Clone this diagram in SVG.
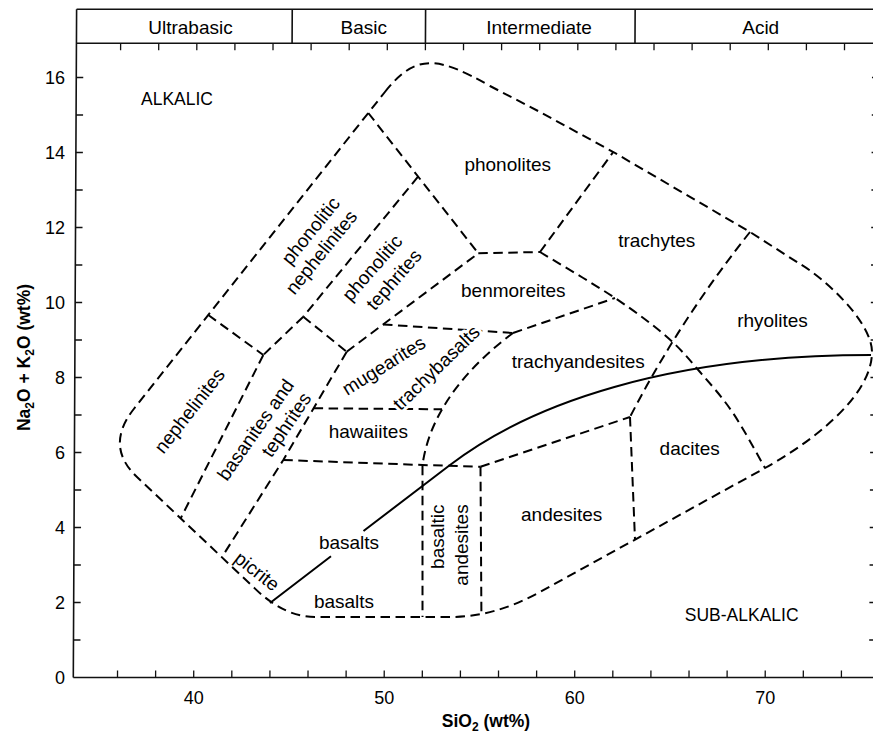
<svg xmlns="http://www.w3.org/2000/svg" width="873" height="736" viewBox="0 0 873 736">
<style>
text{font-family:"Liberation Sans",Arial,sans-serif;fill:#000}
.lbl{font-size:19px;text-anchor:middle}
.cap{font-size:17.5px}
.hdr{font-size:19px;text-anchor:middle}
.num{font-size:18px}
.ttl{font-size:17.5px;font-weight:bold}
.frame{fill:none;stroke:#111;stroke-width:1.6}
.tick{fill:none;stroke:#111;stroke-width:1.3}
.dash{fill:none;stroke:#000;stroke-width:2;stroke-dasharray:9.5 5.5}
.solid{fill:none;stroke:#000;stroke-width:2}
.halo{stroke:#fff;stroke-width:6;paint-order:stroke;stroke-linejoin:round}
</style>
<rect width="873" height="736" fill="#fff"/>
<g id="frame" transform="matrix(1 0 -0.00494 1 3.347 0)">
<path class="frame" d="M73.3,9.3H876M73.3,43.3H876M73.3,677.5H876M73.3,9.3V677.5M876,9.3V677.5M288.95,9.3V43.3M422.3,9.3V43.3M631.85,9.3V43.3"/>
<path class="tick" d="M117.5,43.3v7M155.6,43.3v7M193.7,43.3v7M231.8,43.3v7M269.9,43.3v7M308,43.3v7M346.1,43.3v7M384.2,43.3v7M422.3,43.3v7M460.4,43.3v7M498.5,43.3v7M536.6,43.3v7M574.7,43.3v7M612.8,43.3v7M650.9,43.3v7M689,43.3v7M727.1,43.3v7M765.2,43.3v7M803.3,43.3v7M841.4,43.3v7"/>
<path class="tick" d="M117.5,677.5v-7M155.6,677.5v-7M193.7,677.5v-7M231.8,677.5v-7M269.9,677.5v-7M308,677.5v-7M346.1,677.5v-7M384.2,677.5v-7M422.3,677.5v-7M460.4,677.5v-7M498.5,677.5v-7M536.6,677.5v-7M574.7,677.5v-7M612.8,677.5v-7M650.9,677.5v-7M689,677.5v-7M727.1,677.5v-7M765.2,677.5v-7M803.3,677.5v-7M841.4,677.5v-7"/>
<path class="tick" d="M73.3,640h7M73.3,602.5h7M73.3,565h7M73.3,527.5h7M73.3,490h7M73.3,452.5h7M73.3,415h7M73.3,377.5h7M73.3,340h7M73.3,302.5h7M73.3,265h7M73.3,227.5h7M73.3,190h7M73.3,152.5h7M73.3,115h7M73.3,77.5h7"/>
<path class="tick" d="M876,640h-7M876,602.5h-7M876,565h-7M876,527.5h-7M876,490h-7M876,452.5h-7M876,415h-7M876,377.5h-7M876,340h-7M876,302.5h-7M876,265h-7M876,227.5h-7M876,190h-7M876,152.5h-7M876,115h-7M876,77.5h-7"/>
</g>
<g id="header">
<text class="hdr" x="190.5" y="34.3">Ultrabasic</text>
<text class="hdr" x="363.8" y="34.3">Basic</text>
<text class="hdr" x="539" y="34.3">Intermediate</text>
<text class="hdr" x="760.7" y="34.3">Acid</text>
</g>
<g id="axis-labels">
<g class="num" text-anchor="end">
<text x="65" y="684">0</text><text x="65" y="609">2</text><text x="65" y="534">4</text><text x="65" y="459">6</text><text x="65" y="384">8</text><text x="65" y="309">10</text><text x="65" y="234">12</text><text x="65" y="159">14</text><text x="65" y="84">16</text>
</g>
<g class="num" text-anchor="middle">
<text x="193.7" y="704">40</text><text x="384.2" y="704">50</text><text x="574.7" y="704">60</text><text x="765.2" y="704">70</text>
</g>
<text class="ttl" x="486" y="727" text-anchor="middle">SiO<tspan dy="4" font-size="12">2</tspan><tspan dy="-4"> (wt%)</tspan></text>
<text class="ttl" transform="translate(30,357.5) rotate(-90)" text-anchor="middle">Na<tspan dy="4" font-size="12">2</tspan><tspan dy="-4">O + K</tspan><tspan dy="4" font-size="12">2</tspan><tspan dy="-4">O (wt%)</tspan></text>
</g>
<g id="connectors">
<path id="envelope" class="dash" d="M384.9,92 C416,52.8 437.9,56.3 490,86 L540,112 L613.3,152 L750,232 L800,264 C825,278.6 872,322 872,352 C872,397 810,443 765,468 L540,592 Q494.7,617 450,617 L315,617 Q284.5,617 255,588.6 L137,477 Q104.4,446.2 133.8,409 Z"/>
<path class="dash" d="M368.3,113 L478.3,253.3"/>
<path class="dash" d="M478.3,253.3 L540,252"/>
<path class="dash" d="M540,252 L613.3,152"/>
<path class="dash" d="M750,232 Q680,320 630,417"/>
<path class="dash" d="M630,417 L635,539.7"/>
<path class="dash" d="M480.5,466.7 L630,417"/>
<path class="dash" d="M480.5,466.7 L481.4,614"/>
<path class="dash" d="M283.3,460 L422.5,465 L480.5,466.7"/>
<path class="dash" d="M513,333 C470,365 430,410 422.5,465 L422.5,617"/>
<path class="dash" d="M513,333 L615,298"/>
<path class="dash" d="M383,324.5 L513,333"/>
<path class="dash" d="M540,252 C552.5,259.7 593.8,283.8 615,298 C636.2,312.2 652.8,324.7 667,337 C681.2,349.3 689,359.3 700,372 C711,384.7 722.2,397 733,413 C743.8,429 759.7,458.8 765,468"/>
<path class="dash" d="M346.7,351.7 L478.3,253.3"/>
<path class="dash" d="M303.3,316.7 L346.7,351.7"/>
<path class="dash" d="M418,176.7 L303.3,316.7"/>
<path class="dash" d="M303.3,316.7 L263.3,355"/>
<path class="dash" d="M263.3,355 L180.7,518.3"/>
<path class="dash" d="M208.3,315 L263.3,355"/>
<path class="dash" d="M346.7,351.7 L283.3,460 L222,557"/>
<path class="dash" d="M313.6,408.3 L442,409.3"/>
<path class="solid" d="M270,603 L331,556.2 M363.5,531 L450,465 C530,403.6 668,355 871,355"/>
</g>
<g id="alkalic"><text class="cap" x="141" y="105">ALKALIC</text></g>
<g id="sub-alkalic"><text class="cap" x="741.7" y="620.7" text-anchor="middle">SUB-ALKALIC</text></g>
<g id="phonolites"><text class="lbl" x="507.7" y="170.7">phonolites</text></g>
<g id="trachytes"><text class="lbl" x="656.7" y="247.3">trachytes</text></g>
<g id="benmoreites"><text class="lbl" x="513.3" y="297.3">benmoreites</text></g>
<g id="rhyolites"><text class="lbl" x="772.5" y="326.7">rhyolites</text></g>
<g id="trachyandesites"><text class="lbl" x="578.3" y="368.3">trachyandesites</text></g>
<g id="dacites"><text class="lbl" x="689.7" y="455">dacites</text></g>
<g id="andesites"><text class="lbl" x="561.7" y="521">andesites</text></g>
<g id="hawaiites"><text class="lbl" x="368.3" y="438.3">hawaiites</text></g>
<g id="basalts-alkalic"><text class="lbl" x="349" y="549.3">basalts</text></g>
<g id="basalts-subalkalic"><text class="lbl" x="344" y="608.3">basalts</text></g>
<g id="phonolitic-nephelinites">
<text class="lbl" y="6" transform="translate(311,231) rotate(-51)">phonolitic</text>
<text class="lbl" y="6" transform="translate(321.7,252.5) rotate(-51)">nephelinites</text>
</g>
<g id="phonolitic-tephrites">
<text class="lbl" y="6" transform="translate(372.5,268.3) rotate(-49)">phonolitic</text>
<text class="lbl" y="6" transform="translate(394.2,280) rotate(-49)">tephrites</text>
</g>
<g id="nephelinites"><text class="lbl" y="6" transform="translate(190,411) rotate(-52)">nephelinites</text></g>
<g id="basanites-tephrites">
<text class="lbl" y="6" transform="translate(256,430) rotate(-55)">basanites and</text>
<text class="lbl" y="6" transform="translate(286.7,425) rotate(-56)">tephrites</text>
</g>
<g id="mugearites"><text class="lbl" y="6" transform="translate(384,366) rotate(-32)">mugearites</text></g>
<g id="trachybasalts"><text class="lbl halo" y="6" transform="translate(436.7,368) rotate(-44)">trachybasalts</text></g>
<g id="picrite"><text class="lbl" y="6" transform="translate(256.7,571.7) rotate(38)">picrite</text></g>
<g id="basaltic-andesites">
<text class="lbl" y="6" transform="translate(438,536.7) rotate(-90)">basaltic</text>
<text class="lbl" y="6" transform="translate(461.7,545) rotate(-90)">andesites</text>
</g>
</svg>
